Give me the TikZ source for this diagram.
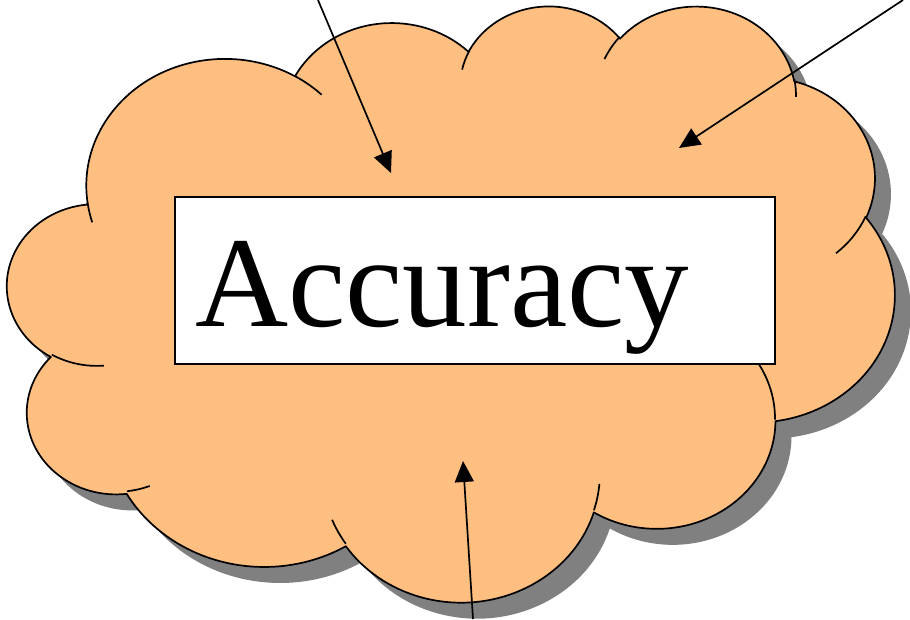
\documentclass[tikz,border=0pt]{standalone}
\usepackage{fontspec}
\newfontfamily\accfont{Liberation Serif}
\usetikzlibrary{arrows.meta}
\definecolor{cloudorange}{HTML}{FFBF80}
\definecolor{cloudshade}{HTML}{808080}
\tikzset{
  declare function={lobeang(\ang,\rx,\ry)=atan2(\rx*sin(\ang),\ry*cos(\ang));},
  lobeframe/.style={shift={#1}, x=2.05324pt, y=-1.37963pt},
  lobe/.style n args={4}{
    start angle={lobeang(#3,#1,#2)},
    end angle={lobeang(#3,#1,#2)+mod(lobeang(#3+#4,#1,#2)-lobeang(#3,#1,#2)+720,360)},
    x radius=#1, y radius=#2},
  cloudbody/.style={fill=cloudorange, draw=black, line width=1.7pt, line join=round},
  cloudshadow/.style={fill=cloudshade},
  cloudfold/.style={draw=black, line width=1.7pt},
  wordbox/.style={draw=black, fill=white, line width=1.7pt, inner sep=0pt},
  wordtext/.style={font=\accfont\fontsize{129}{129}\selectfont, inner sep=0pt,
    anchor=base west},
  pointer/.style={-{Triangle[length=21pt,width=19pt]}, line width=1.7pt},
}
% outline of the cloud: eleven lobes (radii, start and sweep angle)
\newcommand{\cloudlobes}{%
  (39.00,143.70)
  foreach \lw/\lh/\la/\ls in {67.53/91.90/-190.4875/123.7805,
    53.33/72.67/-144.1024/89.9452, 43.65/59.45/-145.8079/99.7230,
    48.57/65.95/-130.9861/117.2417, 53.33/72.73/-78.7089/109.0269,
    67.75/92.20/-46.2673/130.2690, 57.85/78.67/0.6250/114.0333,
    67.52/92.15/22.4516/115.1726, 77.20/105.43/66.2426/75.7110,
    43.60/59.18/-274.9421/146.7356, 43.45/59.45/-246.8285/152.5189}
  {arc[lobe={\lw}{\lh}{\la}{\ls}]}
  -- cycle}
% the short inner folds
\newcommand{\cloudfolds}{%
  foreach \tx/\ty/\lw/\lh/\la/\ls in {46.93/261.77/43.45/59.45/86.7420/26.4295,
    69.28/348.99/43.60/59.18/73.6105/11.4475,
    164.78/390.90/67.52/92.15/137.6242/14.0811,
    288.27/347.51/67.52/92.15/6.4533/15.9984,
    341.29/229.54/57.85/78.67/-70.2924/70.9174,
    417.98/153.54/53.33/72.73/30.3180/27.7515,
    383.24/54.26/48.57/65.95/-13.7443/14.8589,
    290.78/39.52/48.57/65.95/-149.1815/18.1954,
    221.41/47.20/43.65/59.45/-163.4943/17.6864,
    140.00/51.92/67.53/91.90/-66.7070/12.3194,
    41.27/157.89/67.53/91.90/157.6544/11.8582}
  {(\tx,\ty) arc[lobe={\lw}{\lh}{\la}{\ls}]}}

\begin{document}
\begin{tikzpicture}[x=1pt,y=-1pt]
\useasboundingbox (0,0) rectangle (910,619);

% shadow
\begin{scope}[lobeframe={(23.5,20.5)}]
  \path[cloudshadow] \cloudlobes;
\end{scope}

% cloud
\begin{scope}[lobeframe={(7.5,4.5)}]
  \path[cloudbody] \cloudlobes;
  \path[cloudfold] \cloudfolds;
\end{scope}

% box and word
\node[wordbox, minimum width=600pt, minimum height=167pt] (accbox) at (475,280.5) {};
\node[wordtext] (accword) at (195,326) {Accuracy};

% pointers
\coordinate (leftfrom) at (318,0);
\coordinate (leftto) at (391,173);
\coordinate (rightfrom) at (903,0);
\coordinate (rightto) at (679,148);
\coordinate (lowfrom) at (473,619);
\coordinate (lowto) at (463,461);
\draw[pointer] (leftfrom) -- (leftto);
\draw[pointer] (rightfrom) -- (rightto);
\draw[pointer] (lowfrom) -- (lowto);

\end{tikzpicture}
\end{document}
